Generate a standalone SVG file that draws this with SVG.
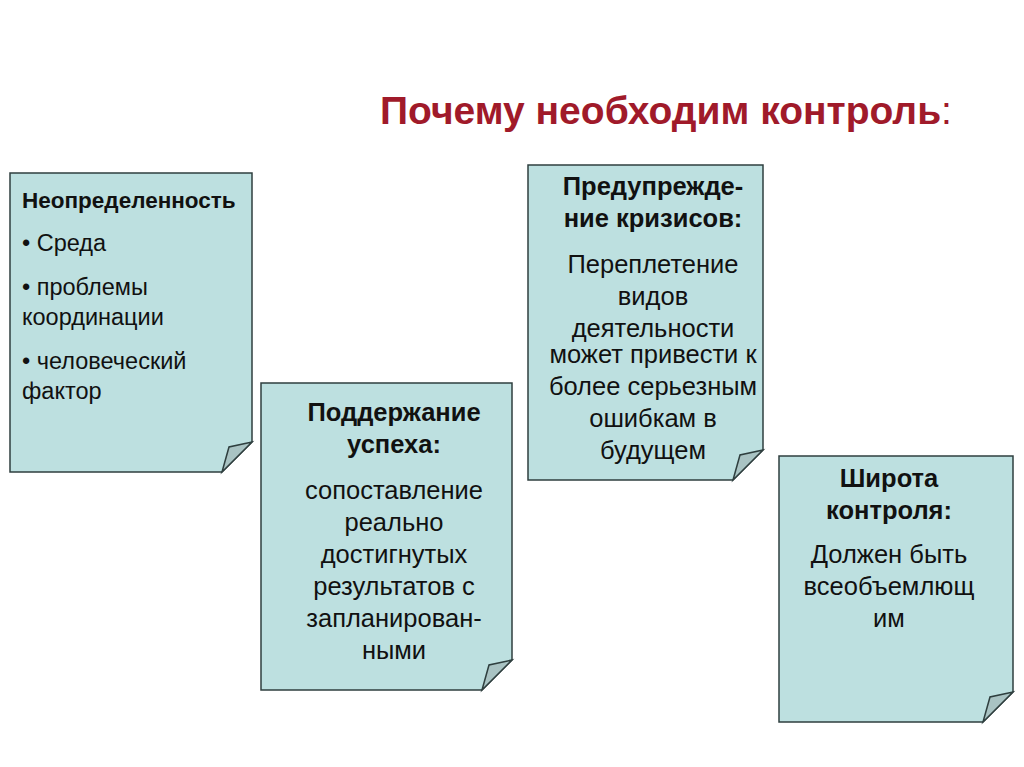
<svg xmlns="http://www.w3.org/2000/svg" width="1024" height="767" viewBox="0 0 1024 767">
<style>
.card{fill:#BDE0E0;stroke:#2F3F3F;stroke-width:1.5}
.fold{fill:#A9C3C3;stroke:#2F3F3F;stroke-width:1.5}
text{font-family:"Liberation Sans",Arial,sans-serif;font-size:25.5px;fill:#111}
.s{font-size:23.5px}
.b{font-weight:bold}
.c{text-anchor:middle}
</style>
<rect width="1024" height="767" fill="#fff"/>
<text x="380" y="124" class="b" style="font-size:39px;fill:#A01A2A">Почему необходим контроль<tspan style="font-weight:normal">:</tspan></text>
<g id="n1">
<path class="card" d="M10,173H252V442L222,472H10Z"/>
<path class="fold" d="M222,472L229,447L252,442Z"/>
<text x="22" y="208" class="b" style="font-size:22.5px">Неопределенность</text>
<text x="22" y="251" class="s">• Среда</text>
<text x="22" y="295" class="s">• проблемы</text>
<text x="22" y="325" class="s">координации</text>
<text x="22" y="369" class="s">• человеческий</text>
<text x="22" y="399" class="s">фактор</text>
</g>
<g id="n2">
<path class="card" d="M261,383H512V660L482,690H261Z"/>
<path class="fold" d="M482,690L489,665L512,660Z"/>
<text x="394" y="421" class="c b">Поддержание</text>
<text x="394" y="453" class="c b">успеха:</text>
<text x="394" y="499" class="c">сопоставление</text>
<text x="394" y="531" class="c">реально</text>
<text x="394" y="563" class="c">достигнутых</text>
<text x="394" y="595" class="c">результатов с</text>
<text x="394" y="627" class="c">запланирован-</text>
<text x="394" y="659" class="c">ными</text>
</g>
<g id="n3">
<path class="card" d="M528,165H763V450L733,480H528Z"/>
<path class="fold" d="M733,480L740,455L763,450Z"/>
<text x="653" y="195" class="c b">Предупрежде-</text>
<text x="653" y="227" class="c b">ние кризисов:</text>
<text x="653" y="273" class="c">Переплетение</text>
<text x="653" y="305" class="c">видов</text>
<text x="653" y="337" class="c">деятельности</text>
<text x="653" y="363" class="c">может привести к</text>
<text x="653" y="395" class="c">более серьезным</text>
<text x="653" y="427" class="c">ошибкам в</text>
<text x="653" y="459" class="c">будущем</text>
</g>
<g id="n4">
<path class="card" d="M779,456H1013V692L983,722H779Z"/>
<path class="fold" d="M983,722L990,697L1013,692Z"/>
<text x="889" y="487" class="c b">Широта</text>
<text x="889" y="519" class="c b">контроля:</text>
<text x="889" y="563" class="c">Должен быть</text>
<text x="889" y="595" class="c">всеобъемлющ</text>
<text x="889" y="627" class="c">им</text>
</g>
<g id="connectors"/>
</svg>
